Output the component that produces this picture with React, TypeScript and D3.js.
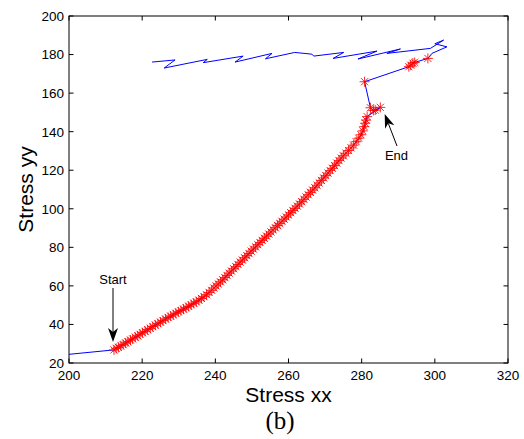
import React from "react";
import * as d3 from "d3";

const xTicks = [200, 220, 240, 260, 280, 300, 320];
const yTicks = [20, 40, 60, 80, 100, 120, 140, 160, 180, 200];

const leadIn: [number, number][] = [[200, 24.5]];

const curveStars: [number, number][] = [
  [212.3, 26.8], [212.9, 27.6], [213.5, 28.1], [214.2, 29.0], [214.8, 29.5], [215.5, 30.4], [216.1, 31.0],
  [216.8, 31.9], [217.4, 32.5], [218.1, 33.4], [218.8, 34.1], [219.4, 34.9], [220.1, 35.7], [220.8, 36.4],
  [221.5, 37.3], [222.2, 38.0], [222.9, 38.9], [223.6, 39.6], [224.3, 40.4], [225.0, 41.2], [225.7, 42.0],
  [226.4, 42.8], [227.1, 43.6], [227.8, 44.3], [228.5, 45.0], [229.2, 45.8], [229.9, 46.5], [230.6, 47.2],
  [231.3, 47.9], [232.0, 48.7], [232.7, 49.4], [233.4, 50.2], [234.1, 51.0], [234.8, 51.7], [235.5, 52.6],
  [236.2, 53.5], [236.9, 54.4], [237.6, 55.4], [238.3, 56.6], [239.0, 57.7], [239.6, 58.9], [240.2, 60.0],
  [240.8, 61.0], [241.4, 62.1], [242.0, 63.2], [242.6, 64.3], [243.2, 65.4], [243.8, 66.6], [244.4, 67.7],
  [245.0, 68.9], [245.6, 70.0], [246.2, 71.1], [246.8, 72.3], [247.4, 73.4], [248.0, 74.6], [248.6, 75.7],
  [249.2, 76.8], [249.8, 78.0], [250.4, 79.1], [251.0, 80.2], [251.6, 81.4], [252.2, 82.5], [252.8, 83.6],
  [253.4, 84.7], [254.0, 85.8], [254.6, 86.9], [255.2, 88.0], [255.8, 89.1], [256.4, 90.2], [257.0, 91.3],
  [257.6, 92.4], [258.2, 93.5], [258.8, 94.6], [259.4, 95.7], [260.0, 96.8], [260.6, 98.0], [261.2, 99.1],
  [261.8, 100.2], [262.4, 101.4], [263.0, 102.5], [263.6, 103.7], [264.2, 104.9], [264.8, 106.1], [265.4, 107.3],
  [266.0, 108.5], [266.6, 109.7], [267.2, 110.9], [267.8, 112.2], [268.4, 113.4], [269.0, 114.7], [269.6, 116.0],
  [270.2, 117.2], [270.8, 118.5], [271.4, 119.8], [272.0, 121.0], [272.6, 122.4], [273.2, 123.7], [273.8, 125.0],
  [274.4, 126.3], [275.0, 127.5], [275.7, 128.8], [276.4, 130.2], [277.1, 131.6], [277.8, 133.0], [278.5, 134.8],
  [279.2, 136.6], [279.8, 138.4], [280.3, 140.4], [280.7, 142.6], [281.0, 144.4], [281.2, 146.0], [281.5, 147.8],
];

const endStars: [number, number][] = [[285.1, 152.6], [283.7, 151.2], [283.2, 151.0], [282.4, 152.4]];

const upperStars: [number, number][] = [
  [280.8, 165.9], [292.9, 173.7], [293.4, 174.5], [294.0, 175.5], [294.5, 175.9], [298.1, 178.0],
];

const zigzag: [number, number][] = [
  [299.2, 180.6], [303.3, 184.0], [300.0, 185.6], [302.4, 187.5], [298.8, 183.2], [286.9, 180.6],
  [290.6, 182.9], [279.0, 177.7], [284.2, 181.8], [272.2, 178.0], [275.1, 181.1], [266.9, 179.2],
  [266.4, 180.2], [261.7, 181.1], [253.7, 177.8], [255.5, 180.6], [245.4, 176.1], [247.6, 179.2],
  [236.7, 175.8], [237.8, 177.5], [226.0, 173.0], [229.0, 177.2], [222.7, 176.1],
];

const W = 524;
const H = 439;
const L = 69, R = 508, T = 16, B = 363;

export default function App() {
  const x = d3.scaleLinear().domain([200, 320]).range([L, R]);
  const y = d3.scaleLinear().domain([20, 200]).range([B, T]);

  const linePts = [...leadIn, ...curveStars, ...endStars, ...upperStars, ...zigzag];
  const line = d3.line<[number, number]>().x((d) => x(d[0])).y((d) => y(d[1]));
  const stars = [...curveStars, ...endStars, ...upperStars];

  const r = 5;
  const dg = r * 0.72;
  const starPath = `M${-r},0H${r}M0,${-r}V${r}M${-dg},${-dg}L${dg},${dg}M${-dg},${dg}L${dg},${-dg}`;

  const tick = 4.5;
  const font = "Liberation Sans, Arial, sans-serif";

  const arrow = (x1: number, y1: number, x2: number, y2: number) => {
    const ang = Math.atan2(y2 - y1, x2 - x1);
    const len = 14, half = 5, notch = 10;
    const ux = Math.cos(ang), uy = Math.sin(ang);
    const px = -uy, py = ux;
    const bx = x2 - ux * len, by = y2 - uy * len;
    const nx = x2 - ux * notch, ny = y2 - uy * notch;
    const head = `M${x2},${y2}L${bx + px * half},${by + py * half}L${nx},${ny}L${bx - px * half},${by - py * half}Z`;
    return (
      <g>
        <line x1={x1} y1={y1} x2={nx} y2={ny} stroke="#000" strokeWidth={1} />
        <path d={head} fill="#000" />
      </g>
    );
  };

  return (
    <svg width={W} height={H} style={{ position: "absolute", left: 0, top: 0, background: "#fff" }}>
      <rect x={0} y={0} width={W} height={H} fill="#fff" />
      <defs>
        <clipPath id="plot">
          <rect x={L} y={T} width={R - L} height={B - T} />
        </clipPath>
      </defs>
      <g clipPath="url(#plot)">
        <path d={line(linePts) || ""} fill="none" stroke="#0000ff" strokeWidth={1} />
        {stars.map((d, i) => (
          <path key={i} d={starPath} transform={`translate(${x(d[0])},${y(d[1])})`} stroke="#ff0000" strokeWidth={1} fill="none" opacity={0.85} />
        ))}
      </g>
      <rect x={L} y={T} width={R - L} height={B - T} fill="none" stroke="#000" strokeWidth={1} />
      {xTicks.map((t) => (
        <g key={"x" + t}>
          <line x1={x(t)} x2={x(t)} y1={B} y2={B - tick} stroke="#000" />
          <line x1={x(t)} x2={x(t)} y1={T} y2={T + tick} stroke="#000" />
          <text x={x(t)} y={380} textAnchor="middle" fontFamily={font} fontSize={13.5} fill="#000">{t}</text>
        </g>
      ))}
      {yTicks.map((t) => (
        <g key={"y" + t}>
          <line x1={L} x2={L + tick} y1={y(t)} y2={y(t)} stroke="#000" />
          <line x1={R} x2={R - tick} y1={y(t)} y2={y(t)} stroke="#000" />
          <text x={64} y={y(t)} dy="0.36em" textAnchor="end" fontFamily={font} fontSize={13.5} fill="#000">{t}</text>
        </g>
      ))}
      <text x={(L + R) / 2} y={402} textAnchor="middle" fontFamily={font} fontSize={21} fill="#000">Stress xx</text>
      <text transform={`translate(33,${(T + B) / 2}) rotate(-90)`} textAnchor="middle" fontFamily={font} fontSize={21} fill="#000">Stress yy</text>
      <text x={280} y={429} textAnchor="middle" fontFamily="Liberation Serif, Times New Roman, serif" fontSize={25} fill="#000">(b)</text>
      <text x={113} y={284} textAnchor="middle" fontFamily={font} fontSize={13} fill="#000">Start</text>
      {arrow(113, 288, 113, 342)}
      <text x={396.5} y={160} textAnchor="middle" fontFamily={font} fontSize={13} fill="#000">End</text>
      {arrow(397, 146, 384.7, 114)}
    </svg>
  );
}
